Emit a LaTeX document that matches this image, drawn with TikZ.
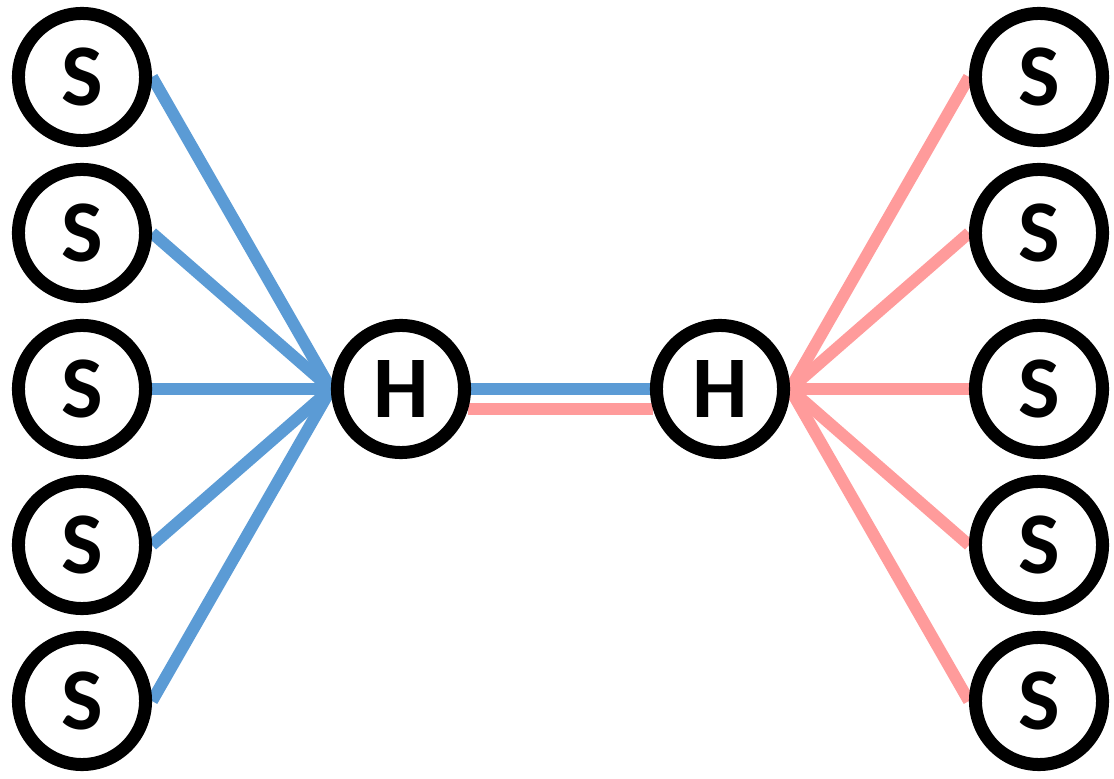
\documentclass[tikz,border=0pt]{standalone}
\usepackage{fontspec}
\setsansfont{Carlito}[BoldFont={Carlito Bold}]
\usetikzlibrary{backgrounds}
\definecolor{LinkBlue}{HTML}{5B9BD5}
\definecolor{LinkPink}{HTML}{FF9B9B}
\tikzset{
  every node/.style={font=\sffamily\bfseries},
  site/.style={circle, draw=black, line width=3.7pt, fill=white, minimum size=1.27cm, inner sep=0pt,
    font=\sffamily\bfseries\fontsize{25}{27}\selectfont},
  hub/.style={site, font=\sffamily\bfseries\fontsize{25}{27}\selectfont},
  blueLink/.style={draw=LinkBlue, line width=3.4pt},
  pinkLink/.style={draw=LinkPink, line width=3.4pt},
}
\begin{document}
\begin{tikzpicture}[x=0.01cm,y=-0.01cm]
  \useasboundingbox (0,0) rectangle (1114,779);
  % Two hubs in the middle
  \node[hub] (hubL) at (401,389) {H};
  \node[hub] (hubR) at (720,389) {H};
  % Sites: one column on each side
  \foreach \i/\y in {1/77,2/233,3/389,4/545,5/701} {
    \node[site] (ls\i) at (82,\y) {S};
    \node[site] (rs\i) at (1039,\y) {S};
  }
  % Links behind the rings
  \begin{pgfonlayer}{background}
    \foreach \i in {1,...,5} {
      \draw[blueLink] (ls\i.east) -- (hubL.west);
      \draw[pinkLink] (hubR.east) -- (rs\i.west);
    }
    \draw[blueLink] (hubL.east) -- (hubR.west);
    \draw[pinkLink] (hubL.-17) -- (hubR.197);
  \end{pgfonlayer}
\end{tikzpicture}
\end{document}
